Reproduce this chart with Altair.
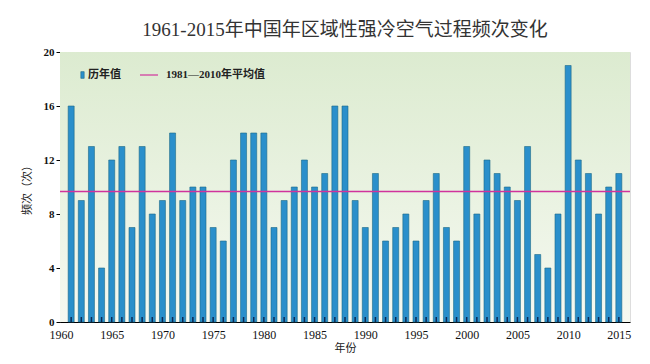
import altair as alt
import pandas as pd

years = list(range(1961, 2016))
counts = [16, 9, 13, 4, 12, 13, 7, 13, 8, 9,
          14, 9, 10, 10, 7, 6, 12, 14, 14, 14,
          7, 9, 10, 12, 10, 11, 16, 16, 9, 7,
          11, 6, 7, 8, 6, 9, 11, 7, 6, 13,
          8, 12, 11, 10, 9, 13, 5, 4, 8, 19,
          12, 11, 8, 10, 11]
avg_label = "1981—2010年平均值"
bar_label = "历年值"
title_text = "1961-2015年中国年区域性强冷空气过程频次变化"
x_ticks = [1960, 1965, 1970, 1975, 1980, 1985, 1990, 1995, 2000, 2005, 2010, 2015]
y_ticks = [0, 4, 8, 12, 16, 20]

df = pd.DataFrame({"year": years, "count": counts})
avg_val = sum(counts[20:50]) / 30.0
avg_df = pd.DataFrame({"avg": [avg_val]})

W, H = 570, 270
xscale = alt.Scale(domain=[1959.9, 2016.1], nice=False, zero=False, padding=0)
yscale = alt.Scale(domain=[0, 20], nice=False)
serif = "Liberation Serif, Noto Sans CJK SC"
magenta = "#d0339c"

bg = alt.Chart(avg_df).mark_rect(
    color=alt.Gradient(
        gradient="linear", x1=0, y1=0, x2=0, y2=1,
        stops=[alt.GradientStop(color="#dcebd0", offset=0),
               alt.GradientStop(color="#f6f9f1", offset=1)]
    )
).encode(x=alt.value(0), x2=alt.value(W), y=alt.value(0), y2=alt.value(H))

bars = alt.Chart(df).mark_bar(
    size=6, color="#2a8fcb", stroke="#1d6a86", strokeWidth=0.6
).encode(
    x=alt.X("year:Q", scale=xscale,
            axis=alt.Axis(values=x_ticks, format="d", title="年份",
                          labelFont=serif, labelFontSize=12, labelColor="#111",
                          labelFlush=False,
                          titleFont="Noto Sans CJK SC", titleFontSize=11,
                          titleFontWeight="normal", titleColor="#222",
                          titlePadding=2, ticks=False, domainColor="#000",
                          labelPadding=7, grid=False)),
    y=alt.Y("count:Q", scale=yscale,
            axis=alt.Axis(values=y_ticks, title="频次（次）",
                          labelFont=serif, labelFontSize=11, labelColor="#111",
                          labelFontWeight="bold",
                          titleFont="Noto Sans CJK SC", titleFontSize=11,
                          titleFontWeight="normal", titleColor="#222",
                          titlePadding=11, tickSize=4, tickColor="#000",
                          domainColor="#000", grid=False))
)

ticks = alt.Chart(df).mark_rule(color="#0d2a55", strokeWidth=1.5).encode(
    x=alt.X("year:Q", scale=xscale),
    y=alt.value(H), y2=alt.value(H - 5)
)

avg_rule = alt.Chart(avg_df).mark_rule(color=magenta, strokeWidth=1.5).encode(
    y=alt.Y("avg:Q", scale=yscale),
    x=alt.value(0), x2=alt.value(W)
)

leg_sq = alt.Chart(avg_df).mark_point(
    size=45, fill="#2a8fcb", filled=True, stroke="#1d6a86", strokeWidth=0.6, opacity=1,
    shape="M-0.5,-1L0.5,-1L0.5,1L-0.5,1Z"
).encode(x=alt.value(22.5), y=alt.value(23))
leg_t1 = alt.Chart(avg_df).mark_text(
    text=bar_label, align="left", baseline="middle", font="Noto Sans CJK SC",
    fontSize=11, fontWeight="bold", color="#222"
).encode(x=alt.value(28), y=alt.value(23))
leg_line = alt.Chart(avg_df).mark_rule(color=magenta, strokeWidth=1.2).encode(
    x=alt.value(80), x2=alt.value(98), y=alt.value(23)
)
leg_t2 = alt.Chart(avg_df).mark_text(
    text=avg_label, align="left", baseline="middle", font=serif,
    fontSize=11, fontWeight="bold", color="#222"
).encode(x=alt.value(106), y=alt.value(23))

chart = alt.layer(bg, bars, ticks, avg_rule, leg_sq, leg_t1, leg_line, leg_t2).properties(
    width=W, height=H,
    title=alt.TitleParams(title_text, font=serif, fontSize=19, fontWeight="normal",
                          color="#333", anchor="middle", offset=6),
    autosize=alt.AutoSizeParams(type="none"),
    padding={"left": 52, "top": 44, "right": 12, "bottom": 34}
).configure_view(stroke=None).configure(background="white")

chart.save("out.html", embed_options={"renderer": "svg", "actions": False})
